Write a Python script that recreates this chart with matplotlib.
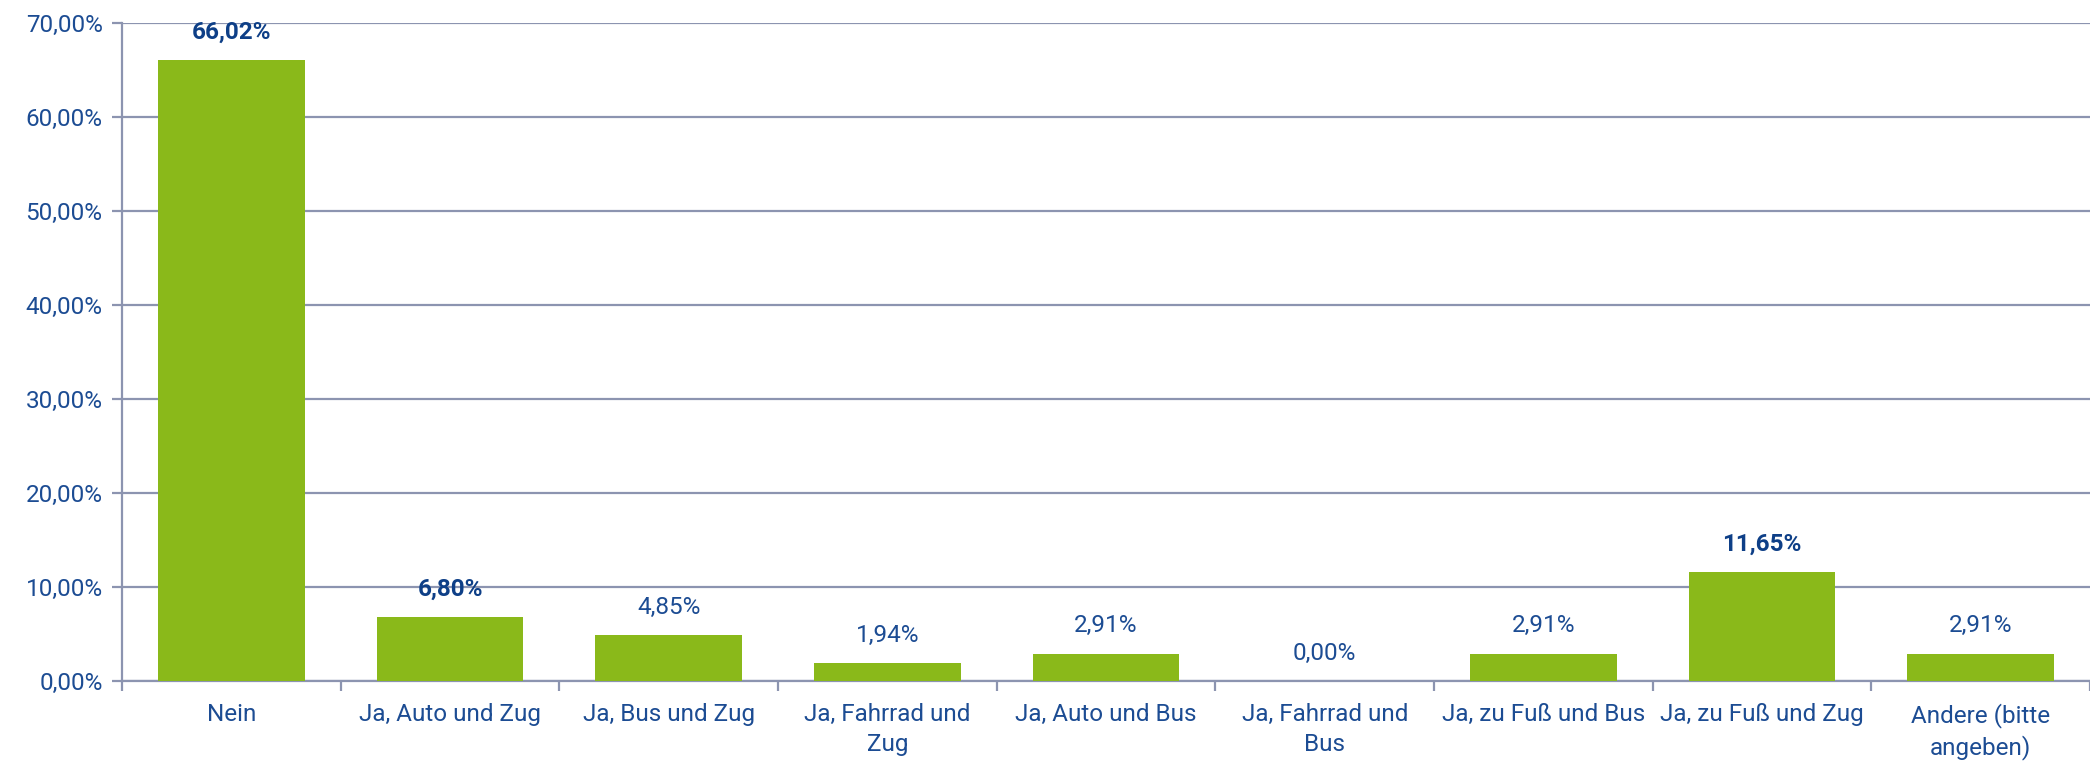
import numpy as np
import matplotlib.pyplot as plt

# categories and shares (%)
categories = ['Nein', 'Ja, Auto und Zug', 'Ja, Bus und Zug', 'Ja, Fahrrad und\nZug',
              'Ja, Auto und Bus', 'Ja, Fahrrad und\nBus', 'Ja, zu Fuß und Bus',
              'Ja, zu Fuß und Zug', 'Andere (bitte\nangeben)']
values = [66.02, 6.80, 4.85, 1.94, 2.91, 0.00, 2.91, 11.65, 2.91]
bold_labels = [True, True, False, False, False, False, False, True, False]
yticks = [0, 10, 20, 30, 40, 50, 60, 70]

plt.rcParams['font.family'] = ['Roboto', 'DejaVu Sans']

text_col = '#1C4C93'
bold_col = '#0E3F87'
grid_col = '#8C94B0'
bar_col = '#8AB91A'
fs = 17.5

fig, ax = plt.subplots(figsize=(20.9, 7.61), dpi=100)
fig.subplots_adjust(left=0.0584, right=1.0, top=0.9698, bottom=0.105)

x = np.arange(len(categories))
bars = ax.bar(x, values, width=0.67, color=bar_col, zorder=3)

for xi, v, b in zip(x, values, bold_labels):
    lbl = f'{v:.2f}%'.replace('.', ',')
    ax.annotate(lbl, (xi, v), xytext=(0, 20), textcoords='offset points',
                ha='center', va='center', fontsize=fs,
                color=bold_col if b else text_col,
                fontweight='bold' if b else 'normal')

ax.set_xlim(-0.5, len(categories) - 0.5)
ax.set_ylim(0, 70)
ax.set_yticks(yticks)
ax.set_yticklabels([f'{t:.2f}%'.replace('.', ',') for t in yticks])
ax.yaxis.grid(True, color=grid_col, linewidth=1.6, zorder=0)

ax.set_xticks(x)
ax.set_xticklabels(categories, linespacing=1.35)
ax.set_xticks(np.arange(-0.5, len(categories), 1.0), minor=True)
ax.tick_params(axis='x', which='major', length=0, pad=16, labelsize=fs, labelcolor=text_col)
ax.tick_params(axis='x', which='minor', length=7, width=1.6, color=grid_col)
ax.tick_params(axis='y', length=7, width=1.6, color=grid_col, labelsize=fs,
               labelcolor=text_col, pad=7)

for s in ['top', 'right']:
    ax.spines[s].set_visible(False)
for s in ['left', 'bottom']:
    ax.spines[s].set_color(grid_col)
    ax.spines[s].set_linewidth(1.6)

fig.savefig('out.png', dpi=100)
